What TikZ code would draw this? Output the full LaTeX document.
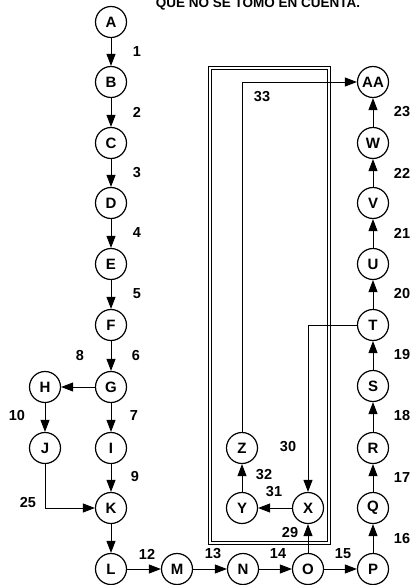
\documentclass[tikz,border=0pt]{standalone}
\usepackage{fontspec}
\setmainfont{Liberation Sans}
\usetikzlibrary{arrows.meta,positioning}

\begin{document}
\begin{tikzpicture}[
    x=1pt, y=-1pt,
    vertex/.style={
        circle,
        draw=black,
        line width=1.2pt,
        minimum size=31pt,
        inner sep=0pt,
        font=\fontsize{15}{15}\selectfont\bfseries
    },
    num/.style={font=\fontsize{14.5}{14.5}\selectfont\bfseries},
    arrow/.style={-{Triangle[length=12pt,width=9pt]}, line width=0.9pt},
    boxline/.style={draw=black, line width=0.8pt}
]
\useasboundingbox (0,0) rectangle (411,585);

% Title
\node[font=\fontsize{13.5}{13.5}\selectfont\bfseries, anchor=base] (title) at (258,7.5) {QUE NO SE TOMO EN CUENTA.};

% Frame (double line)
\draw[boxline] (208,66) rectangle (330,544);
\draw[boxline] (211,69) rectangle (327,541);

% Left column
\node[vertex] (a) at (111,22) {A};
\node[vertex] (b) at (111,82) {B};
\node[vertex] (c) at (111,143) {C};
\node[vertex] (d) at (111,203) {D};
\node[vertex] (e) at (111,264) {E};
\node[vertex] (f) at (111,325) {F};
\node[vertex] (g) at (111,387) {G};
\node[vertex] (h) at (45,387) {H};
\node[vertex] (i) at (111,448) {I};
\node[vertex] (j) at (45,448) {J};
\node[vertex] (k) at (111,508) {K};
\node[vertex] (l) at (111,569) {L};

% Bottom row
\node[vertex] (m) at (177,569) {M};
\node[vertex] (n) at (243,569) {N};
\node[vertex] (o) at (308,569) {O};
\node[vertex] (p) at (373,569) {P};

% Inside the frame
\node[vertex] (x) at (308,508) {X};
\node[vertex] (y) at (242,508) {Y};
\node[vertex] (z) at (242,448) {Z};

% Right column
\node[vertex] (q) at (373,508) {Q};
\node[vertex] (r) at (373,448) {R};
\node[vertex] (s) at (373,386) {S};
\node[vertex] (t) at (373,325) {T};
\node[vertex] (u) at (373,264) {U};
\node[vertex] (v) at (373,203) {V};
\node[vertex] (w) at (373,143) {W};
\node[vertex] (aa) at (373,82) {AA};

% Edges
\draw[arrow] (a) -- (b);
\draw[arrow] (b) -- (c);
\draw[arrow] (c) -- (d);
\draw[arrow] (d) -- (e);
\draw[arrow] (e) -- (f);
\draw[arrow] (f) -- (g);
\draw[arrow] (g) -- (h);
\draw[arrow] (g) -- (i);
\draw[arrow] (h) -- (j);
\draw[arrow] (i) -- (k);
\draw[arrow] (j) |- (k);
\draw[arrow] (k) -- (l);
\draw[arrow] (l) -- (m);
\draw[arrow] (m) -- (n);
\draw[arrow] (n) -- (o);
\draw[arrow] (o) -- (p);
\draw[arrow] (o) -- (x);
\draw[arrow] (x) -- (y);
\draw[arrow] (y) -- (z);
\draw[arrow] (z) |- (aa);
\draw[arrow] (t) -| (x);
\draw[arrow] (p) -- (q);
\draw[arrow] (q) -- (r);
\draw[arrow] (r) -- (s);
\draw[arrow] (s) -- (t);
\draw[arrow] (t) -- (u);
\draw[arrow] (u) -- (v);
\draw[arrow] (v) -- (w);
\draw[arrow] (w) -- (aa);

% Activity numbers
\node[num] (n1) at (137,52) {1};
\node[num] (n2) at (137,112) {2};
\node[num] (n3) at (137,173) {3};
\node[num] (n4) at (137,233) {4};
\node[num] (n5) at (137,294) {5};
\node[num] (n6) at (136,356) {6};
\node[num] (n8) at (80,356) {8};
\node[num] (n7) at (134,416) {7};
\node[num] (n10) at (17,416) {10};
\node[num] (n9) at (135,477) {9};
\node[num] (n25) at (28,503) {25};
\node[num] (n12) at (147,554) {12};
\node[num] (n13) at (213,554) {13};
\node[num] (n14) at (278,554) {14};
\node[num] (n15) at (343,554) {15};
\node[num] (n29) at (290,533) {29};
\node[num] (n31) at (274,492) {31};
\node[num] (n32) at (264,475) {32};
\node[num] (n30) at (288,447) {30};
\node[num] (n33) at (262,97) {33};
\node[num] (n16) at (402,539) {16};
\node[num] (n17) at (402,478) {17};
\node[num] (n18) at (402,416) {18};
\node[num] (n19) at (402,355) {19};
\node[num] (n20) at (402,294) {20};
\node[num] (n21) at (402,233) {21};
\node[num] (n22) at (402,173) {22};
\node[num] (n23) at (402,112) {23};

\end{tikzpicture}
\end{document}
